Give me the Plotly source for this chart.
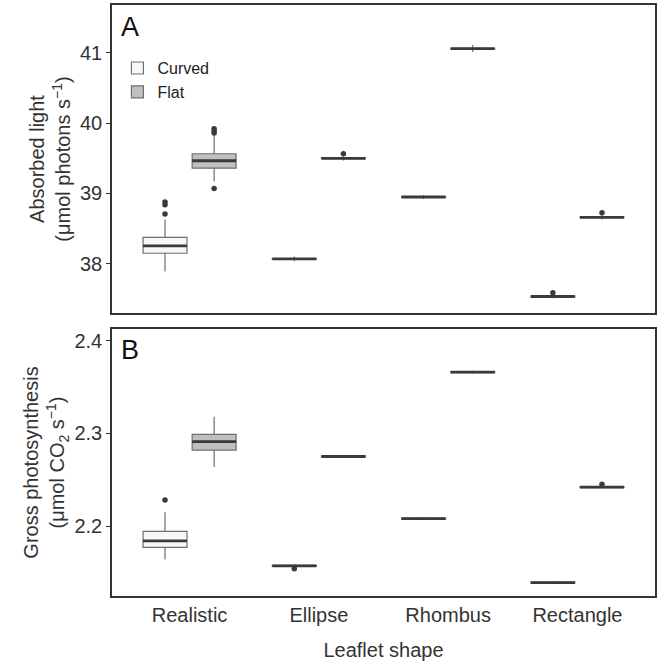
import plotly.graph_objects as go

categories = ["Realistic", "Ellipse", "Rhombus", "Rectangle"]
groups = ["Curved", "Flat"]

# Panel A: absorbed light
a_curved_q1 = [38.150, 38.065, 38.945, 37.530]
a_curved_med = [38.256, 38.070, 38.950, 37.535]
a_curved_q3 = [38.375, 38.075, 38.955, 37.540]
a_curved_lo = [37.890, 38.035, 38.920, 37.510]
a_curved_hi = [38.626, 38.105, 38.980, 37.560]
a_curved_out = [[38.707, 38.840, 38.878], [], [], [37.587]]

a_flat_q1 = [39.360, 39.495, 41.055, 38.655]
a_flat_med = [39.465, 39.500, 41.060, 38.660]
a_flat_q3 = [39.565, 39.505, 41.065, 38.665]
a_flat_lo = [39.170, 39.470, 41.010, 38.630]
a_flat_hi = [39.835, 39.530, 41.110, 38.690]
a_flat_out = [[39.070, 39.860, 39.890, 39.920], [39.565], [], [38.725]]

# Panel B: gross photosynthesis
b_curved_q1 = [2.1770, 2.1565, 2.2075, 2.1385]
b_curved_med = [2.1840, 2.1570, 2.2080, 2.1390]
b_curved_q3 = [2.1943, 2.1575, 2.2085, 2.1395]
b_curved_lo = [2.1640, 2.1555, 2.2065, 2.1375]
b_curved_hi = [2.2148, 2.1590, 2.2095, 2.1405]
b_curved_out = [[2.2280], [2.1540], [], []]

b_flat_q1 = [2.2820, 2.2745, 2.3655, 2.2415]
b_flat_med = [2.2910, 2.2750, 2.3660, 2.2420]
b_flat_q3 = [2.2990, 2.2755, 2.3665, 2.2425]
b_flat_lo = [2.2636, 2.2738, 2.3645, 2.2405]
b_flat_hi = [2.3180, 2.2762, 2.3675, 2.2435]
b_flat_out = [[], [], [], [2.2450]]

fills = {"Curved": "#f7f7f7", "Flat": "#bfbfbf"}
dodge = {"Curved": -0.19, "Flat": 0.19}
box_w = 0.34
line_col = "#6e6e6e"
dark = "#3a3a3a"
FONT = "Liberation Sans, Arial, Helvetica, sans-serif"

fig = go.Figure()

def add_panel(yaxis, xaxis, data, showlegend):
    for g in groups:
        q1, med, q3, lo, hi, out = data[g]
        xs = [i + dodge[g] for i in range(len(categories))]
        fig.add_trace(go.Box(
            x=xs, q1=q1, median=med, q3=q3, lowerfence=lo, upperfence=hi,
            width=box_w, fillcolor=fills[g], whiskerwidth=0,
            line=dict(color=line_col, width=1.2),
            name=g, legendgroup=g, showlegend=showlegend,
            xaxis=xaxis, yaxis=yaxis, boxpoints=False, hoverinfo="skip",
        ))
        # thicker median line (ggplot style)
        mx, my = [], []
        for x, m in zip(xs, med):
            mx += [x - box_w / 2, x + box_w / 2, None]
            my += [m, m, None]
        fig.add_trace(go.Scatter(
            x=mx, y=my, mode="lines", line=dict(color=dark, width=2.8),
            showlegend=False, xaxis=xaxis, yaxis=yaxis, hoverinfo="skip",
        ))
        ox, oy = [], []
        for x, vals in zip(xs, out):
            for v in vals:
                ox.append(x)
                oy.append(v)
        fig.add_trace(go.Scatter(
            x=ox, y=oy, mode="markers",
            marker=dict(color=dark, size=5.5),
            showlegend=False, xaxis=xaxis, yaxis=yaxis, hoverinfo="skip",
        ))

add_panel("y", "x", {
    "Curved": (a_curved_q1, a_curved_med, a_curved_q3, a_curved_lo, a_curved_hi, a_curved_out),
    "Flat": (a_flat_q1, a_flat_med, a_flat_q3, a_flat_lo, a_flat_hi, a_flat_out),
}, True)
add_panel("y2", "x2", {
    "Curved": (b_curved_q1, b_curved_med, b_curved_q3, b_curved_lo, b_curved_hi, b_curved_out),
    "Flat": (b_flat_q1, b_flat_med, b_flat_q3, b_flat_lo, b_flat_hi, b_flat_out),
}, False)

axis_common = dict(showline=True, mirror=True, linecolor="#333333", linewidth=1.6,
                   showgrid=False, zeroline=False, automargin=False)

fig.update_layout(
    width=660, height=663,
    margin=dict(l=112, r=5, t=5, b=67),
    paper_bgcolor="white", plot_bgcolor="white",
    font=dict(family=FONT, size=20, color="#333333"),
    xaxis=dict(domain=[0, 1], range=[-0.6, 3.6], anchor="y",
               tickvals=list(range(len(categories))), ticktext=categories,
               showticklabels=False, ticks="", **axis_common),
    yaxis=dict(domain=[0.4788, 1], range=[37.30, 41.68], anchor="x",
               tickvals=[38, 39, 40, 41], ticks="outside", ticklen=4,
               tickcolor="#333333", tickwidth=1.2,
               tickfont=dict(size=20, color="#333333"),
               title=dict(text="Absorbed light<br>(μmol photons s<sup>−1</sup>)",
                          font=dict(size=20, color="#333333"), standoff=4),
               **axis_common),
    xaxis2=dict(domain=[0, 1], range=[-0.6, 3.6], anchor="y2",
                tickvals=list(range(len(categories))), ticktext=categories,
                ticks="", tickfont=dict(size=20, color="#333333"),
                title=dict(text="Leaflet shape", font=dict(size=20, color="#333333"), standoff=18),
                **axis_common),
    yaxis2=dict(domain=[0, 0.4518], range=[2.1245, 2.4126], anchor="x2",
                tickvals=[2.2, 2.3, 2.4], tickformat=".1f", ticks="outside", ticklen=4,
                tickcolor="#333333", tickwidth=1.2,
                tickfont=dict(size=20, color="#333333"),
                title=dict(text="Gross photosynthesis<br>(μmol CO<sub>2</sub> s<sup>−1</sup>)",
                           font=dict(size=20, color="#333333"), standoff=4),
                **axis_common),
    legend=dict(x=0.01, y=0.922, xanchor="left", yanchor="top",
                bgcolor="rgba(0,0,0,0)", font=dict(size=16, color="#222222"),
                itemwidth=30, tracegroupgap=0),
    showlegend=True,
    annotations=[
        dict(text="A", xref="x domain", yref="y domain", x=0.012, y=0.985,
             xanchor="left", yanchor="top", showarrow=False,
             font=dict(size=27, color="#111111", family=FONT)),
        dict(text="B", xref="x2 domain", yref="y2 domain", x=0.012, y=0.985,
             xanchor="left", yanchor="top", showarrow=False,
             font=dict(size=27, color="#111111", family=FONT)),
    ],
)

fig.write_html("out.html", config={"displayModeBar": False},
               post_script="document.body.style.margin='0';")
